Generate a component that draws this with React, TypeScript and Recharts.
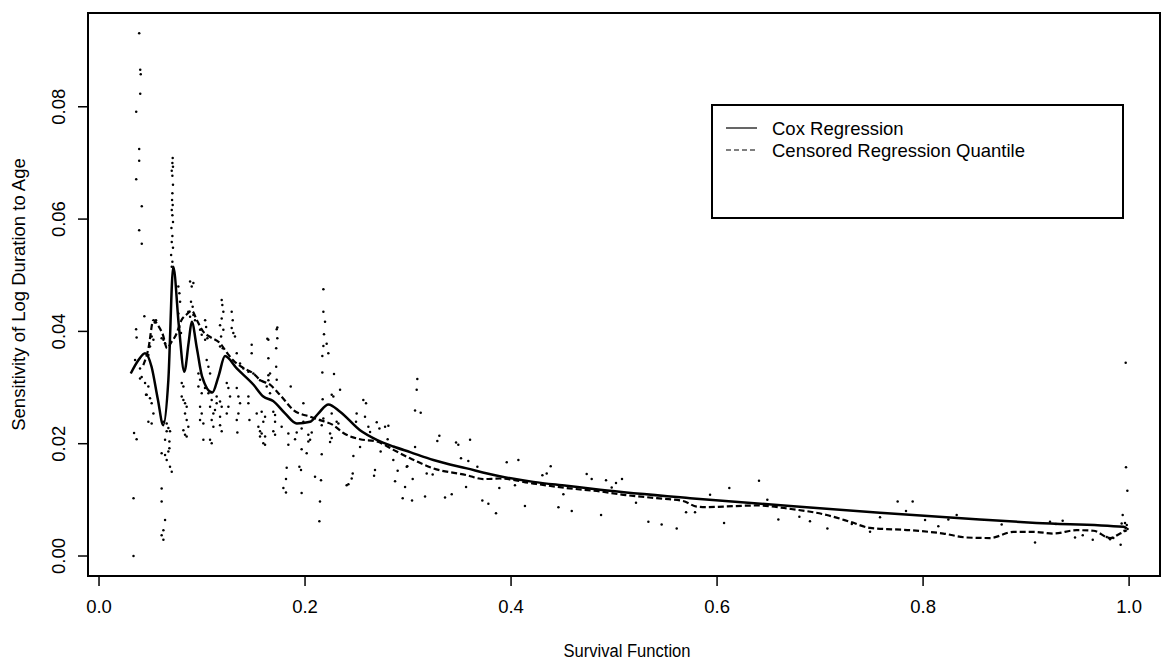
import React from 'react';
import { ComposedChart, Line, Scatter, XAxis, YAxis, ReferenceArea, Legend } from 'recharts';

const FONT = '"Liberation Sans", Arial, Helvetica, sans-serif';

const xTicks = [0, 0.2, 0.4, 0.6, 0.8, 1.0];
const yTicks = [0, 0.02, 0.04, 0.06, 0.08];
const xDomain = [-0.0107, 1.03];
const yDomain = [-0.00356, 0.0967];
const xTitle = 'Survival Function';
const yTitle = 'Sensitivity of Log Duration to Age';
const seriesNames = ['Cox Regression', 'Censored Regression Quantile'];

const coxX = [0.0308, 0.038, 0.0447, 0.051, 0.057, 0.0624, 0.0673, 0.0721, 0.0775, 0.0828, 0.087, 0.09, 0.095, 0.1, 0.11, 0.116, 0.1223, 0.1337, 0.15, 0.1595, 0.169, 0.1806, 0.192, 0.2049, 0.213, 0.2227, 0.234, 0.2534, 0.2696, 0.2858, 0.302, 0.3246, 0.357, 0.389, 0.4217, 0.454, 0.4864, 0.5738, 0.6709, 0.758, 0.855, 0.91, 0.9945, 0.9977];
const coxY = [0.0325, 0.0348, 0.0361, 0.0337, 0.028, 0.0233, 0.0313, 0.0515, 0.041, 0.0328, 0.038, 0.0417, 0.037, 0.032, 0.0291, 0.032, 0.0356, 0.0334, 0.0305, 0.0284, 0.0276, 0.0254, 0.0236, 0.0239, 0.0254, 0.027, 0.0257, 0.0224, 0.0207, 0.0195, 0.0185, 0.0171, 0.0156, 0.0142, 0.0132, 0.0125, 0.0118, 0.0103, 0.0089, 0.0077, 0.0065, 0.0059, 0.0052, 0.0049];

const crqX = [0.043, 0.048, 0.0528, 0.0575, 0.062, 0.066, 0.07, 0.075, 0.08, 0.085, 0.09, 0.095, 0.101, 0.108, 0.1175, 0.125, 0.13, 0.14, 0.15, 0.156, 0.166, 0.1757, 0.1887, 0.2049, 0.2146, 0.2275, 0.2372, 0.2534, 0.2696, 0.2858, 0.302, 0.3246, 0.357, 0.373, 0.389, 0.4217, 0.454, 0.4864, 0.509, 0.5414, 0.567, 0.5803, 0.59, 0.606, 0.6385, 0.6709, 0.7065, 0.7291, 0.7485, 0.7874, 0.8197, 0.8424, 0.865, 0.8877, 0.907, 0.9265, 0.949, 0.9654, 0.9815, 0.9913, 0.9977];
const crqY = [0.034, 0.037, 0.042, 0.041, 0.0394, 0.037, 0.038, 0.0395, 0.042, 0.043, 0.0437, 0.042, 0.04, 0.039, 0.0379, 0.036, 0.0349, 0.0335, 0.0325, 0.0314, 0.0305, 0.0287, 0.026, 0.0248, 0.0242, 0.0233, 0.0219, 0.0208, 0.0204, 0.0189, 0.0174, 0.0156, 0.0144, 0.0137, 0.0138, 0.0129, 0.0121, 0.0115, 0.0109, 0.0103, 0.0098, 0.0088, 0.0087, 0.0088, 0.009, 0.0084, 0.0073, 0.0061, 0.005, 0.0046, 0.004, 0.0033, 0.0032, 0.0043, 0.0043, 0.004, 0.0046, 0.0045, 0.0032, 0.004, 0.0046];

const scatterLeft: [number, number][] = [
  [0.039, 0.0931], [0.04, 0.0866], [0.0405, 0.0858], [0.04, 0.0823], [0.0361, 0.0791], [0.039, 0.0725], [0.039, 0.0704], [0.0361, 0.0671], [0.0415, 0.0623], [0.039, 0.058], [0.0415, 0.0556],
  [0.036, 0.0404], [0.0365, 0.0389], [0.034, 0.0219], [0.0365, 0.0208], [0.0335, 0.0103], [0.0335, 0.0],
  [0.044, 0.0427], [0.0553, 0.042], [0.0541, 0.0416], [0.0511, 0.0391], [0.0528, 0.0385], [0.0495, 0.0373], [0.0479, 0.0358], [0.0608, 0.0388], [0.0625, 0.0385], [0.0641, 0.0379],
  [0.0398, 0.0316], [0.0447, 0.0308], [0.0479, 0.0302], [0.0463, 0.0287], [0.0495, 0.0281], [0.0511, 0.0272], [0.0528, 0.0254], [0.0479, 0.0239], [0.0511, 0.0236], [0.035, 0.0349], [0.0398, 0.0334], [0.0414, 0.0319], [0.0456, 0.0287],
  [0.0625, 0.0239], [0.0657, 0.0236], [0.0673, 0.0228], [0.0689, 0.0222], [0.0657, 0.0222], [0.0641, 0.0207], [0.0683, 0.0204], [0.0683, 0.0192], [0.0673, 0.0186], [0.0608, 0.0183], [0.0641, 0.018], [0.0657, 0.0171], [0.0689, 0.0159], [0.0706, 0.015], [0.0608, 0.012], [0.0608, 0.0097], [0.0641, 0.0064], [0.0625, 0.0046], [0.0608, 0.0037], [0.0625, 0.0029],
];

const scatterPeak: [number, number][] = [
  [0.0715, 0.0709], [0.0712, 0.07], [0.0718, 0.0693], [0.0706, 0.0686], [0.0712, 0.0677], [0.0718, 0.0661], [0.0712, 0.0646], [0.0709, 0.0634], [0.0715, 0.0625], [0.0706, 0.0616], [0.0712, 0.0607], [0.0718, 0.0595], [0.0703, 0.0584], [0.0712, 0.057], [0.0706, 0.0559], [0.0718, 0.0549], [0.07, 0.0536], [0.0712, 0.0524], [0.0706, 0.0515],
  [0.0884, 0.0489], [0.0916, 0.0486], [0.09, 0.048], [0.0893, 0.0453], [0.0909, 0.0444], [0.0867, 0.0435], [0.0884, 0.0426], [0.0916, 0.0429], [0.0932, 0.042], [0.077, 0.048], [0.078, 0.0468], [0.0787, 0.0453], [0.077, 0.0432], [0.078, 0.0408], [0.0796, 0.0397], [0.0981, 0.0403], [0.0997, 0.0394], [0.103, 0.0385], [0.1052, 0.0388], [0.103, 0.042], [0.104, 0.0408],
  [0.0803, 0.0284], [0.0819, 0.0278], [0.0835, 0.0272], [0.0851, 0.0266], [0.0835, 0.0254], [0.0851, 0.0242], [0.0867, 0.023], [0.0819, 0.0224], [0.0835, 0.0216], [0.0851, 0.0213], [0.0803, 0.0308], [0.0819, 0.0302],
];

const scatterBumps: [number, number][] = [
  [0.1191, 0.0456], [0.1197, 0.0447], [0.1207, 0.0435], [0.1191, 0.0423], [0.1175, 0.0411], [0.1207, 0.0403], [0.1185, 0.0391], [0.1175, 0.0373], [0.1201, 0.037], [0.1288, 0.0435], [0.1298, 0.042], [0.1288, 0.0406], [0.1304, 0.0397], [0.132, 0.0391], [0.1482, 0.0376], [0.1482, 0.0361], [0.1644, 0.0385], [0.1644, 0.0352], [0.1337, 0.0361], [0.1369, 0.0343], [0.1401, 0.0334], [0.145, 0.0328], [0.1498, 0.0325], [0.1563, 0.0313], [0.1628, 0.0302],
  [0.0965, 0.0325], [0.0981, 0.0314], [0.0965, 0.0302], [0.0997, 0.029], [0.0981, 0.0266], [0.0997, 0.0254], [0.0981, 0.0242], [0.1013, 0.0236], [0.1013, 0.0207], [0.1078, 0.0207], [0.1094, 0.0201], [0.1045, 0.0349], [0.1062, 0.0337], [0.1078, 0.0325], [0.1029, 0.0299], [0.1062, 0.029], [0.1094, 0.0278], [0.1078, 0.0266], [0.111, 0.0254], [0.1094, 0.0242], [0.1126, 0.026], [0.1142, 0.0272], [0.1142, 0.0284], [0.111, 0.023],
  [0.1175, 0.0275], [0.1191, 0.0266], [0.1175, 0.0248], [0.1175, 0.0233], [0.1191, 0.0222], [0.124, 0.0254], [0.1256, 0.0266], [0.1272, 0.0284], [0.124, 0.0308], [0.1256, 0.0299], [0.1337, 0.0299], [0.1353, 0.0284], [0.1369, 0.0272], [0.1353, 0.0254], [0.1337, 0.0242], [0.1343, 0.022], [0.145, 0.0284], [0.145, 0.0272], [0.146, 0.0242], [0.1531, 0.0254], [0.1547, 0.023], [0.1563, 0.0222], [0.1595, 0.0239], [0.1612, 0.0213], [0.1595, 0.0201], [0.1563, 0.0213], [0.1644, 0.0313], [0.166, 0.029],
];

const scatterMid: [number, number][] = [
  [0.2178, 0.0475], [0.2178, 0.0435], [0.2194, 0.0417], [0.2184, 0.0395], [0.2178, 0.0374], [0.221, 0.0378], [0.2226, 0.0361], [0.2168, 0.0356], [0.2168, 0.0327], [0.2281, 0.0324], [0.234, 0.0296], [0.2259, 0.0287], [0.2275, 0.0284], [0.2171, 0.0279],
  [0.1731, 0.0407], [0.1725, 0.0404], [0.1634, 0.0387], [0.1731, 0.0388], [0.172, 0.037], [0.172, 0.0337], [0.1644, 0.0322], [0.166, 0.0325], [0.1725, 0.0314], [0.1861, 0.0302], [0.1984, 0.0272], [0.1579, 0.0257], [0.1612, 0.0248], [0.1692, 0.0257], [0.1709, 0.0251], [0.1709, 0.0239], [0.1773, 0.023], [0.1579, 0.0218], [0.1692, 0.0222], [0.1709, 0.0216], [0.1612, 0.0198],
  [0.1838, 0.0218], [0.1838, 0.0198], [0.1903, 0.0208], [0.1967, 0.0227], [0.1984, 0.0239], [0.1919, 0.022], [0.2032, 0.0216], [0.2049, 0.0207], [0.2065, 0.022], [0.2032, 0.0204], [0.1967, 0.019], [0.2016, 0.0183], [0.1822, 0.0157], [0.1815, 0.0137], [0.179, 0.0121], [0.1815, 0.0113], [0.1945, 0.0159], [0.1961, 0.0153], [0.1967, 0.0112],
  [0.2097, 0.0141], [0.2155, 0.0135], [0.2162, 0.0181], [0.2145, 0.0097], [0.2139, 0.0062], [0.2162, 0.0233], [0.2145, 0.0242], [0.2178, 0.0245], [0.2243, 0.0218], [0.2259, 0.021], [0.2243, 0.0203], [0.2307, 0.0239], [0.2324, 0.0236], [0.2259, 0.0254],
  [0.2501, 0.0254], [0.2495, 0.0239], [0.2566, 0.0278], [0.2592, 0.0272], [0.2582, 0.0248], [0.2615, 0.023], [0.2631, 0.0221], [0.2534, 0.0194], [0.2469, 0.0178], [0.2463, 0.0147], [0.2453, 0.0138], [0.2421, 0.0128], [0.2404, 0.0126],
  [0.2696, 0.0238], [0.2722, 0.0227], [0.2777, 0.023], [0.2809, 0.0232], [0.2802, 0.0208], [0.2734, 0.0186], [0.2679, 0.0153], [0.267, 0.0143], [0.2857, 0.0171], [0.2899, 0.0152], [0.2874, 0.0133], [0.2971, 0.0123], [0.2948, 0.0103], [0.2987, 0.0159],
];

const scatterTail: [number, number][] = [
  [0.309, 0.0315], [0.3084, 0.0296], [0.3068, 0.0259], [0.3123, 0.0255], [0.3068, 0.0194], [0.2993, 0.016], [0.3045, 0.0137], [0.3039, 0.0099], [0.3165, 0.0106], [0.3181, 0.0147], [0.3239, 0.0145], [0.3284, 0.0205], [0.3304, 0.0214], [0.3359, 0.0104], [0.3424, 0.011], [0.3466, 0.0202], [0.3488, 0.0198], [0.3514, 0.0174], [0.3563, 0.0123], [0.3585, 0.0169], [0.3602, 0.0207], [0.3673, 0.0159], [0.3721, 0.0099], [0.378, 0.0093], [0.3854, 0.0076], [0.3886, 0.0121], [0.3958, 0.0167],
  [0.4071, 0.0171], [0.4038, 0.0126], [0.4135, 0.0089], [0.4304, 0.0144], [0.4346, 0.0147], [0.4385, 0.016], [0.4508, 0.011], [0.446, 0.0087], [0.4589, 0.008], [0.4734, 0.0146], [0.4783, 0.0137], [0.4922, 0.0135], [0.4977, 0.0122], [0.5019, 0.013], [0.5077, 0.0137], [0.4874, 0.0073], [0.5213, 0.0095], [0.5333, 0.0061], [0.5462, 0.0056], [0.5608, 0.0049], [0.5699, 0.0078], [0.5786, 0.0078], [0.5932, 0.0109], [0.6068, 0.0059], [0.6119, 0.0121], [0.6407, 0.0134], [0.6488, 0.01], [0.6595, 0.0065],
  [0.6799, 0.007], [0.6902, 0.0062], [0.7071, 0.0049], [0.7308, 0.0057], [0.7485, 0.0043], [0.7582, 0.0069], [0.7753, 0.0097], [0.7899, 0.0097], [0.7834, 0.008], [0.8019, 0.0064], [0.8148, 0.0053], [0.8245, 0.0065], [0.8326, 0.0073], [0.8763, 0.0056], [0.9087, 0.0024], [0.9232, 0.0061], [0.929, 0.0057], [0.9355, 0.0063], [0.9475, 0.0033], [0.955, 0.0037], [0.9647, 0.0029], [0.9783, 0.0034], [0.9815, 0.003], [0.9847, 0.0032], [0.9918, 0.002], [0.9938, 0.0073], [0.9928, 0.0058], [0.996, 0.0059], [0.9977, 0.0055], [0.9967, 0.0344], [0.997, 0.0158], [0.9983, 0.0116], [0.9955, 0.0045], [0.9985, 0.0048],
];

const coxData = coxX.map((s, i) => ({ s, v: coxY[i] }));
const crqData = crqX.map((s, i) => ({ s, v: crqY[i] }));
const pointData = [...scatterLeft, ...scatterPeak, ...scatterBumps, ...scatterMid, ...scatterTail].map(([s, v]) => ({ s, v }));

const XTick = (props: any) => {
  const { x, y, payload } = props;
  return (
    <text x={x} y={y + 25} textAnchor="middle" fontSize={18.5} fontFamily={FONT} fill="#000">
      {Number(payload.value).toFixed(1)}
    </text>
  );
};

const YTick = (props: any) => {
  const { x, y, payload } = props;
  const bx = x - 11;
  return (
    <text x={bx} y={y} transform={`rotate(-90, ${bx}, ${y})`} textAnchor="middle" fontSize={18.5} fontFamily={FONT} fill="#000">
      {Number(payload.value).toFixed(2)}
    </text>
  );
};

const Dot = (props: any) => <circle cx={props.cx} cy={props.cy} r={1.25} fill="#000" />;

const renderLegend = (props: any) => {
  const entries = (props.payload || []).filter((e: any) => e.type !== 'none' && seriesNames.includes(e.value));
  const items = seriesNames.map((n, i) => {
    const e = entries.find((x: any) => x.value === n);
    return { name: n, dashed: e ? !!(e.payload && e.payload.strokeDasharray) : i === 1 };
  });
  return (
    <svg width={414} height={116} style={{ display: 'block' }}>
      <rect x={1} y={1} width={411} height={113} fill="#fff" stroke="#000" strokeWidth={2} />
      {items.map((it: any, i: number) => (
        <g key={it.name}>
          <line x1={15} x2={46} y1={24 + i * 22} y2={24 + i * 22} stroke="#000" strokeWidth={1.2} strokeDasharray={it.dashed ? '5 3' : undefined} />
          <text x={61} y={30.5 + i * 22} fontSize={18.5} fontFamily={FONT} fill="#000">{it.name}</text>
        </g>
      ))}
    </svg>
  );
};

export default function App() {
  return (
    <div style={{ position: 'absolute', left: 0, top: 0, background: '#fff' }}>
      <ComposedChart width={1161} height={662} margin={{ top: 13, right: 1, bottom: 0, left: 0 }}>
        <XAxis
          type="number"
          dataKey="s"
          domain={xDomain}
          allowDataOverflow
          ticks={xTicks}
          interval={0}
          height={86}
          axisLine={false}
          tickLine={{ stroke: '#000', strokeWidth: 1.5 }}
          tickSize={10}
          tick={<XTick />}
          label={(p: any) => {
            const vb = p.viewBox || { x: 88, y: 576, width: 1072, height: 86 };
            return (
              <text x={vb.x + vb.width / 2 + 3} y={657} textAnchor="middle" fontSize={17.5} fontFamily={FONT} fill="#000" textLength={127} lengthAdjust="spacingAndGlyphs">
                {xTitle}
              </text>
            );
          }}
        />
        <YAxis
          type="number"
          dataKey="v"
          domain={yDomain}
          allowDataOverflow
          ticks={yTicks}
          interval={0}
          width={88}
          axisLine={false}
          tickLine={{ stroke: '#000', strokeWidth: 1.5 }}
          tickSize={10}
          tick={<YTick />}
          label={(p: any) => {
            const vb = p.viewBox || { x: 0, y: 13, width: 88, height: 563 };
            const cy = vb.y + vb.height / 2;
            return (
              <text x={25} y={cy} transform={`rotate(-90, 25, ${cy})`} textAnchor="middle" fontSize={18.5} fontFamily={FONT} fill="#000">
                {yTitle}
              </text>
            );
          }}
        />
        <ReferenceArea x1={xDomain[0]} x2={xDomain[1]} y1={yDomain[0]} y2={yDomain[1]} fill="none" stroke="#000" strokeWidth={2} ifOverflow="visible" />
        <Scatter name="points" data={pointData} dataKey="v" shape={Dot} legendType="none" isAnimationActive={false} />
        <Line name={seriesNames[0]} data={coxData} dataKey="v" type="monotone" stroke="#000" strokeWidth={2.5} dot={false} isAnimationActive={false} />
        <Line name={seriesNames[1]} data={crqData} dataKey="v" type="monotone" stroke="#000" strokeWidth={2.2} strokeDasharray="6 3" dot={false} isAnimationActive={false} />
        <Legend
          layout="vertical"
          align="center"
          verticalAlign="middle"
          wrapperStyle={{ position: 'absolute', left: 711, top: 104, width: 414, height: 116 }}
          content={renderLegend}
        />
      </ComposedChart>
    </div>
  );
}
